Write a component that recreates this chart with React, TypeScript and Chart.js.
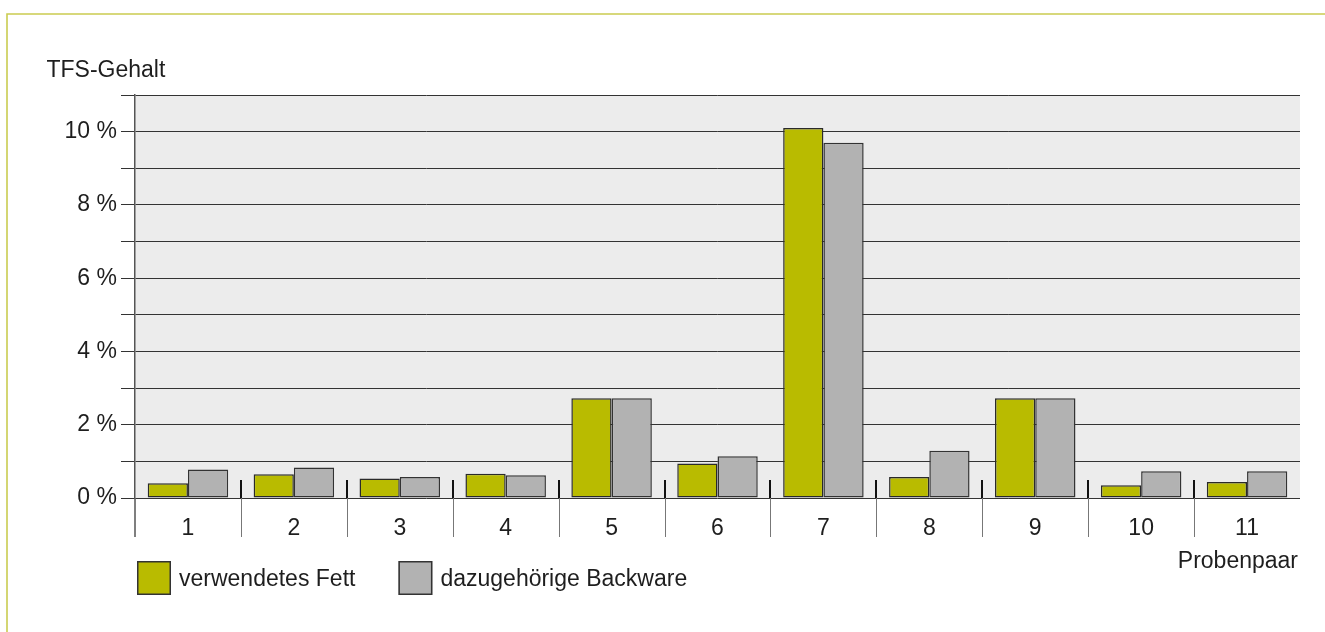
import React, { useEffect, useRef } from "react";
import { Chart, registerables } from "chart.js";

Chart.register(...registerables);

const categories = ["1", "2", "3", "4", "5", "6", "7", "8", "9", "10", "11"];
const fettValues = [0.4, 0.65, 0.53, 0.66, 2.72, 0.94, 10.1, 0.57, 2.72, 0.35, 0.44];
const backwareValues = [0.78, 0.83, 0.57, 0.62, 2.72, 1.14, 9.7, 1.29, 2.72, 0.73, 0.73];
const seriesLabels = ["verwendetes Fett", "dazugehörige Backware"];
const seriesColors = ["#b9bb00", "#b2b2b2"];
const yTitle = "TFS-Gehalt";
const xTitle = "Probenpaar";

const FONT = "'Liberation Sans', Arial, sans-serif";
const TEXT = "#1e1e1e";

const decorPlugin = {
  id: "decor",
  beforeDraw(chart: any) {
    const { ctx } = chart;
    ctx.save();
    ctx.strokeStyle = "#cacc50";
    ctx.lineWidth = 1.6;
    ctx.beginPath();
    ctx.moveTo(7, 632);
    ctx.lineTo(7, 14);
    ctx.lineTo(1325, 14);
    ctx.stroke();
    ctx.restore();
  },
  afterDraw(chart: any) {
    const { ctx, chartArea, scales } = chart;
    const x = scales.x;
    const bottom = chartArea.bottom;
    ctx.save();
    // category dividers
    for (let i = 1; i < categories.length; i++) {
      const px = Math.round((x.getPixelForTick(i - 1) + x.getPixelForTick(i)) / 2);
      ctx.strokeStyle = "#111";
      ctx.lineWidth = 2;
      ctx.beginPath();
      ctx.moveTo(px, bottom - 18);
      ctx.lineTo(px, bottom);
      ctx.stroke();
      ctx.strokeStyle = "#777";
      ctx.lineWidth = 1;
      ctx.beginPath();
      ctx.moveTo(px + 0.5, bottom);
      ctx.lineTo(px + 0.5, bottom + 39);
      ctx.stroke();
    }
    // y axis extension
    ctx.strokeStyle = "#555";
    ctx.lineWidth = 1.5;
    ctx.beginPath();
    ctx.moveTo(chartArea.left, bottom);
    ctx.lineTo(chartArea.left, bottom + 39);
    ctx.stroke();

    // titles
    ctx.fillStyle = TEXT;
    ctx.font = `23px ${FONT}`;
    ctx.textBaseline = "alphabetic";
    ctx.textAlign = "left";
    ctx.fillText(yTitle, 46.5, 77);
    ctx.textAlign = "right";
    ctx.fillText(xTitle, chartArea.right - 2, 568);

    // legend
    const ds = chart.data.datasets;
    let lx = 137;
    const ly = 561;
    const box = 34;
    ctx.textAlign = "left";
    ds.forEach((d: any) => {
      ctx.fillStyle = d.backgroundColor;
      ctx.fillRect(lx, ly, box, box);
      ctx.strokeStyle = "#333";
      ctx.lineWidth = 1.5;
      ctx.strokeRect(lx + 0.75, ly + 0.75, box - 1.5, box - 1.5);
      ctx.fillStyle = TEXT;
      ctx.fillText(d.label, lx + box + 8, 585.5);
      const w = ctx.measureText(d.label).width;
      lx = lx + box + 8 + w + 43;
    });
    ctx.restore();
  },
};

const bgPlugin = {
  id: "plotbg",
  beforeDraw(chart: any) {
    const { ctx, chartArea } = chart;
    ctx.save();
    ctx.fillStyle = "#ececec";
    ctx.fillRect(chartArea.left, chartArea.top, chartArea.right - chartArea.left, chartArea.bottom - chartArea.top);
    ctx.restore();
  },
};

export default function App() {
  const ref = useRef<HTMLCanvasElement | null>(null);

  useEffect(() => {
    if (!ref.current) return;
    const chart = new Chart(ref.current, {
      type: "bar",
      data: {
        labels: categories,
        datasets: [
          {
            label: seriesLabels[0],
            data: fettValues,
            backgroundColor: seriesColors[0],
            borderColor: "#2a2a2a",
            borderWidth: 1.5,
            borderSkipped: false,
            categoryPercentage: 0.76,
            barPercentage: 1,
          },
          {
            label: seriesLabels[1],
            data: backwareValues,
            backgroundColor: seriesColors[1],
            borderColor: "#333",
            borderWidth: 1.5,
            borderSkipped: false,
            categoryPercentage: 0.76,
            barPercentage: 1,
          },
        ],
      },
      options: {
        responsive: false,
        animation: false,
        devicePixelRatio: 1,
        layout: { padding: { left: 0, right: 25, top: 95, bottom: 0 } },
        plugins: {
          legend: { display: false },
          title: { display: false },
          tooltip: { enabled: false },
        },
        scales: {
          x: {
            grid: { display: false },
            border: { display: false },
            ticks: {
              padding: 9,
              color: TEXT,
              font: { family: FONT, size: 23 },
              maxRotation: 0,
            },
            afterFit: (s: any) => {
              s.height = 632 - 498;
            },
          },
          y: {
            min: 0,
            max: 11,
            ticks: {
              stepSize: 1,
              padding: 4,
              color: TEXT,
              font: { family: FONT, size: 23 },
              callback: (v: any) => (Number(v) % 2 === 0 ? `${v} %` : ""),
            },
            grid: {
              color: "#333",
              lineWidth: 1,
              drawTicks: true,
              tickLength: 14,
            },
            border: { display: true, color: "#555", width: 1.5 },
            afterFit: (s: any) => {
              s.width = 135;
            },
          },
        },
      },
      plugins: [bgPlugin, decorPlugin],
    });
    return () => chart.destroy();
  }, []);

  return (
    <div style={{ position: "absolute", left: 0, top: 0, width: 1325, height: 632, background: "#fff" }}>
      <canvas ref={ref} width={1325} height={632} style={{ display: "block", width: 1325, height: 632 }} />
    </div>
  );
}
